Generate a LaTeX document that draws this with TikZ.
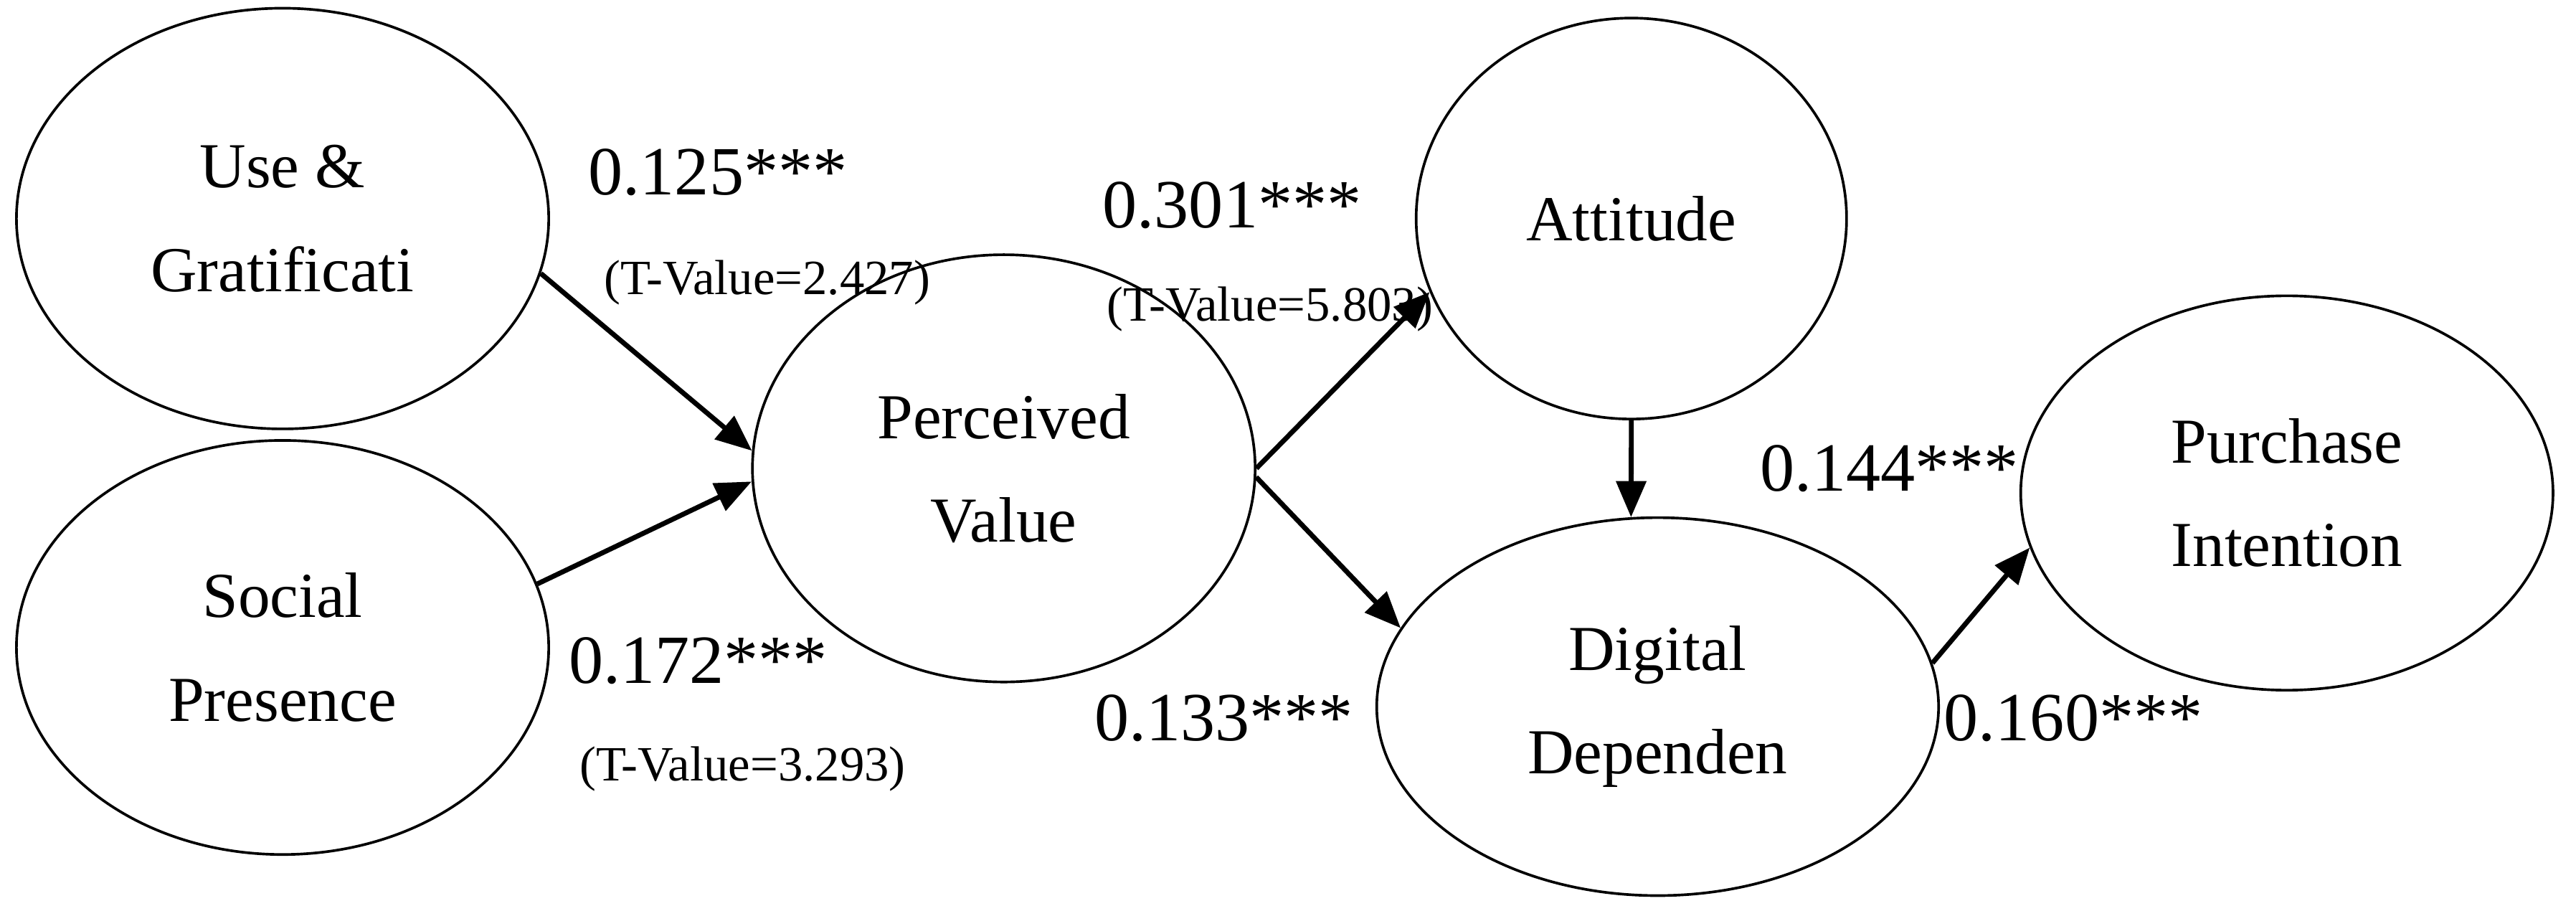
\documentclass[tikz,border=0pt]{standalone}
\usepackage{fontspec}
\setmainfont{Liberation Serif}
\usetikzlibrary{arrows.meta,shapes.geometric}
\begin{document}
\begin{tikzpicture}[x=0.5pt,y=-0.5pt,
  var/.style={draw,ellipse,line width=0.8pt,fill=white,align=center,font=\fontsize{19.5}{31.5}\selectfont,inner sep=0pt},
  coef/.style={font=\fontsize{21}{24}\selectfont,inner sep=0pt},
  tval/.style={font=\fontsize{15}{18}\selectfont,inner sep=0pt},
  arr/.style={line width=1.5pt,-{Triangle[length=11pt,width=9pt]}}]
\useasboundingbox (0,0) rectangle (1568,551);
\node[var,minimum width=153pt,minimum height=130pt] (pv) at (611,285) {Perceived\\Value};
\node[coef] (c1) at (437,105) {0.125***};
\node[tval] (t1) at (467,172) {(T-Value=2.427)};
\node[coef] (c2) at (750,125) {0.301***};
\node[tval] (t2) at (773,188) {(T-Value=5.803)};
\node[coef] (c3) at (425,402) {0.172***};
\node[tval] (t3) at (452,468) {(T-Value=3.293)};
\node[coef] (c4) at (745,437) {0.133***};
\node[coef] (c5) at (1150,285) {0.144***};
\node[coef] (c6) at (1262,437) {0.160***};
\node[var,minimum width=162pt,minimum height=128pt] (ug) at (172,133) {Use \&\\Gratificati};
\node[var,minimum width=162pt,minimum height=126pt] (sp) at (172,394) {Social\\Presence};
\node[var,minimum width=131pt,minimum height=122pt] (at) at (993,133) {Attitude};
\node[var,minimum width=171pt,minimum height=115pt] (dd) at (1009,430) {Digital\\Dependen};
\node[var,minimum width=162pt,minimum height=120pt] (pi) at (1392,300) {Purchase\\Intention};
\draw[arr] (ug.-12) -- (pv.176);
\draw[arr] (sp.14) -- (pv.183);
\draw[arr] (pv.east) -- (at.200);
\draw[arr] (pv.-2) -- (dd.163);
\draw[arr] (at.south) -- (dd.98);
\draw[arr] (dd.9) -- (pi.192);
\end{tikzpicture}
\end{document}
